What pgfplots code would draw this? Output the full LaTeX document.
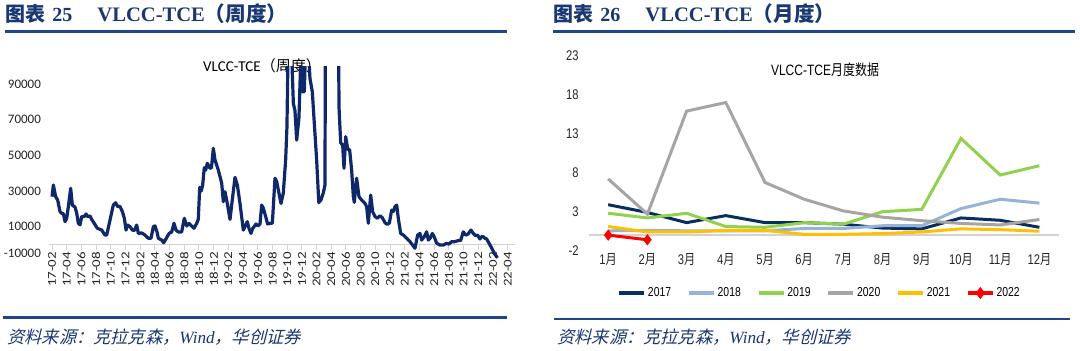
\documentclass[border=0pt]{standalone}
\usepackage{pgfplots}
\pgfplotsset{compat=1.18}
\usepackage{fontspec}
\setmainfont{Liberation Sans}
\newfontfamily\narrow[FakeStretch=0.8]{Liberation Sans}
\newfontfamily\cjkn[FakeStretch=0.8]{Noto Sans CJK SC}
\newfontfamily\cjk{Noto Sans CJK SC}
\newfontfamily\carl{Carlito}
\newfontfamily\carlx[FakeStretch=1.25]{Carlito}
\newfontfamily\tnr{Liberation Serif}
\newfontfamily\cjkit[FakeSlant=0.25]{Noto Sans CJK SC}
\definecolor{tblue}{RGB}{25,55,115}
\definecolor{rblue}{RGB}{30,70,135}
\definecolor{lineblue}{RGB}{14,40,105}
\definecolor{lgray}{RGB}{210,210,210}
\definecolor{c17}{RGB}{10,45,95}
\definecolor{c18}{RGB}{149,179,215}
\definecolor{c19}{RGB}{146,208,80}
\definecolor{c20}{RGB}{165,165,165}
\definecolor{c21}{RGB}{255,192,0}
\definecolor{c22}{RGB}{255,0,0}
\begin{document}
\begin{tikzpicture}[x=0.5pt,y=0.5pt]
\path[use as bounding box] (0,0) rectangle (1080,350);
% ---- titles and rules
\node[anchor=west, inner sep=0, text=tblue] at (5,336) {\fontsize{10}{12}\selectfont{\cjk\bfseries 图表}\hspace{0.35em}{\tnr\bfseries 25}};
\node[anchor=west, inner sep=0, text=tblue] at (97,336) {\fontsize{10.3}{12}\selectfont{\tnr\bfseries VLCC-TCE}{\cjk\bfseries （周度）}};
\node[anchor=west, inner sep=0, text=tblue] at (553,336) {\fontsize{10}{12}\selectfont{\cjk\bfseries 图表}\hspace{0.35em}{\tnr\bfseries 26}};
\node[anchor=west, inner sep=0, text=tblue] at (645,336) {\fontsize{10.3}{12}\selectfont{\tnr\bfseries VLCC-TCE}{\cjk\bfseries （月度）}};
\draw[rblue, line width=1.2pt] (5,318.7) -- (507,318.7);
\draw[rblue, line width=1.2pt] (553,318.7) -- (1075,318.7);
\draw[rblue, line width=1.2pt] (3,32.5) -- (507,32.5);
\draw[rblue, line width=1.2pt] (554,31) -- (1070,31);
\node[anchor=west, inner sep=0, text=tblue] at (7,13) {\fontsize{8.6}{10}\selectfont{\cjkit 资料来源：克拉克森，}{\tnr\itshape Wind}{\cjkit ，华创证券}};
\node[anchor=west, inner sep=0, text=tblue] at (557,13) {\fontsize{8.6}{10}\selectfont{\cjkit 资料来源：克拉克森，}{\tnr\itshape Wind}{\cjkit ，华创证券}};
% chart titles
\node[inner sep=0] at (262,284) {\fontsize{7.5}{9}\selectfont{\carl VLCC-TCE}{\cjk （周度）}};
\node[inner sep=0] at (825,280) {\fontsize{7.5}{9}\selectfont{\narrow VLCC-TCE}{\cjkn 月度数据}};
% ---- left chart
\begin{axis}[at={(24.65pt,43.825pt)}, anchor=south west, scale only axis,
  width=232.85pt, height=98.175pt,
  xmin=-0.37, xmax=63, ymin=-10, ymax=100,
  axis x line*=middle, axis y line*=left,
  x axis line style={draw=lgray, line width=0.6pt, -},
  y axis line style={draw=none},
  xtick={0,2,...,62},
  xticklabels={17-02,17-04,17-06,17-08,17-10,17-12,18-02,18-04,18-06,18-08,18-10,18-12,19-02,19-04,19-06,19-08,19-10,19-12,20-02,20-04,20-06,20-08,20-10,20-12,21-02,21-04,21-06,21-08,21-10,21-12,22-02,22-04},
  xtick align=outside, major tick length=2.5pt,
  xtick style={draw=lgray, line width=0.5pt},
  ytick={-5,10,30,50,70,90},
  yticklabels={-10000,10000,30000,50000,70000,90000},
  ytick style={draw=none},
  xticklabel style={font=\carlx\fontsize{6}{7}\selectfont, rotate=90, anchor=east, inner sep=1pt, text=black!85},
  yticklabel style={font=\carl\fontsize{6.5}{7}\selectfont, inner sep=0pt, xshift=-4pt, text=black!85},
  clip=true]
\addplot[lineblue, line width=1.6pt, line join=round] coordinates {
(0,26.8) (0.18,33.3) (0.5,26.8) (0.77,24.9) (1.09,18.4) (1.32,17.5) (1.55,17.2) (1.77,12.8)
(2.0,14.7) (2.22,21.2) (2.54,31.5) (2.77,22) (3.13,21) (3.36,17.5) (3.58,11.9) (3.81,11)
(4.04,15.7) (4.4,15.7) (4.63,17.1) (4.85,15.6) (5.17,16) (5.4,14) (5.85,11.2) (6.17,9.1)
(6.76,8.1) (7.21,5.3) (7.44,5.3) (7.89,13.7) (8.34,22.1) (8.66,23.4) (8.93,21.3) (9.25,21.3)
(9.57,18.5) (9.84,14.7) (10.07,8.1) (10.3,10.9) (10.61,10) (10.93,8.1) (11.2,7.8) (11.52,10.9)
(11.75,6.2) (12.2,6.5) (12.65,5.3) (13.1,3.5) (13.47,3.5) (13.79,10.0) (14.01,10.4) (14.29,7)
(14.47,3.5) (14.92,2.5) (15.19,1.0) (15.6,3.8) (15.92,6.2) (16.28,7) (16.6,11.9) (16.87,8.1)
(17.19,7) (17.64,7) (18.0,14.7) (18.33,10.4) (18.64,11.8) (19.0,10.4) (19.32,9.1) (19.68,11.8)
(19.9,14) (20.1,32) (20.3,30) (20.5,33.3) (20.72,43) (20.91,41.7) (21.13,45.5) (21.5,42.7)
(21.7,43) (21.95,53.9) (22.18,47.3) (22.63,41.7) (23.09,34.3) (23.31,24.0) (23.54,29.6) (23.85,23.0)
(24.22,14.1) (24.53,25) (24.9,37.6) (25.22,33.3) (25.58,23.0) (26.03,8.1) (26.26,10) (26.57,12.8)
(26.8,9.1) (27.07,6.2) (27.3,8.9) (27.76,11.5) (28.0,10.4) (28.3,11.5) (28.53,22.1) (28.76,20.3)
(29.07,15.7) (29.34,11.5) (29.7,11.9) (29.98,11.9) (30.34,37.1) (30.57,35.3) (30.88,28.8) (31.16,23.0)
(31.47,28.8) (31.79,47.3) (31.97,66) (32.12,110) (32.58,110) (32.84,79) (33.06,75) (33.29,58.5)
(33.6,71) (33.88,108) (34.05,85.6) (34.33,85.6) (34.5,110) (34.88,110) (35.1,93) (35.42,85.6)
(35.69,67.9) (36.01,47.3) (36.3,23.5) (36.6,25) (36.91,28.8) (37.14,33.3) (37.3,250) (38.8,250)
(39.05,77) (39.28,57) (39.55,55.6) (39.73,42.7) (39.96,60.4) (40.23,53.5) (40.5,53) (40.77,41.7)
(41.0,27) (41.13,23.6) (41.45,37.1) (41.77,26.8) (42.13,24.9) (42.59,23) (42.81,21.2) (43.04,11.9)
(43.36,27.7) (43.63,18.4) (43.95,15.7) (44.26,14.7) (44.63,16.1) (44.95,15) (45.31,12.2) (45.62,11.3)
(45.9,12) (46.22,19.3) (46.45,18.5) (46.67,21.2) (46.9,22.1) (47.12,14.7) (47.44,6.2) (47.8,5.3)
(48.26,3.5) (48.71,1.6) (49.07,-0.3) (49.39,-2.1) (49.75,5.3) (50.07,6.2) (50.3,2.5) (50.66,4.4)
(50.98,7.1) (51.2,2.5) (51.45,3.5) (51.75,6.2) (52.0,4.4) (52.34,0.7) (52.79,-0.3) (53.25,-0.3)
(53.7,0.7) (54.0,0.2) (54.38,1.6) (54.8,1.6) (55.28,2.2) (55.6,2.2) (55.96,7.1) (56.28,5.3)
(56.6,5.8) (57.0,8.1) (57.32,6.2) (57.64,4.9) (57.9,5.3) (58.23,3.1) (58.45,4.4) (58.68,4.4)
(58.9,3.5) (59.14,3.1) (59.46,0.8) (59.82,-2.0) (60.18,-4.8) (60.5,-6.8) (60.6,-7.5)
};
\end{axis}
% ---- right chart
\begin{axis}[at={(294.3pt,49.65pt)}, anchor=south west, scale only axis,
  width=235.2pt, height=97.5pt,
  xmin=0.5, xmax=12.5, ymin=-2, ymax=23,
  axis line style={draw=none}, tick style={draw=none},
  xtick={1,...,12},
  xticklabels={{1{\cjkn 月}},{2{\cjkn 月}},{3{\cjkn 月}},{4{\cjkn 月}},{5{\cjkn 月}},{6{\cjkn 月}},{7{\cjkn 月}},{8{\cjkn 月}},{9{\cjkn 月}},{10{\cjkn 月}},{11{\cjkn 月}},{12{\cjkn 月}}},
  ytick={-2,3,8,13,18,23},
  yticklabels={-2,3,8,13,18,23},
  xticklabel style={font=\narrow\fontsize{7}{8}\selectfont, inner sep=0pt, yshift=-1pt, text=black!85},
  yticklabel style={font=\narrow\fontsize{7}{8}\selectfont, inner sep=0pt, xshift=-4.8pt, text=black!85},
  legend style={at={(0.491,-0.217)}, anchor=center, legend columns=-1, draw=none, fill=none,
    font=\narrow\fontsize{6.5}{7}\selectfont, nodes={inner sep=1pt},
    /tikz/every even column/.append style={column sep=7pt}},
  legend image code/.code={\draw[#1, line width=1.8pt, mark repeat=3, mark phase=2] plot coordinates {(0pt,0pt) (6.25pt,0pt) (12.5pt,0pt)};},
  clip=false]
\draw[lgray, line width=0.8pt] (axis cs:0.5,0) -- (axis cs:12.5,0);
\addplot[c17, line width=1.5pt] coordinates {(1,3.9) (2,2.9) (3,1.6) (4,2.5) (5,1.6) (6,1.6) (7,1.4) (8,0.9) (9,0.8) (10,2.2) (11,1.9) (12,1.0)};
\addplot[c18, line width=1.5pt] coordinates {(1,0.55) (2,0.6) (3,0.55) (4,0.55) (5,0.55) (6,0.85) (7,0.85) (8,1.2) (9,1.2) (10,3.4) (11,4.6) (12,4.1)};
\addplot[c19, line width=1.5pt] coordinates {(1,2.8) (2,2.2) (3,2.8) (4,1.1) (5,1.0) (6,1.6) (7,1.4) (8,3.0) (9,3.3) (10,12.4) (11,7.7) (12,8.9)};
\addplot[c20, line width=1.5pt] coordinates {(1,7.2) (2,2.7) (3,15.9) (4,17.0) (5,6.75) (6,4.6) (7,3.1) (8,2.3) (9,1.85) (10,1.5) (11,1.3) (12,2.0)};
\addplot[c21, line width=1.5pt] coordinates {(1,1.1) (2,0.4) (3,0.4) (4,0.6) (5,0.6) (6,0.1) (7,0.1) (8,0.2) (9,0.4) (10,0.8) (11,0.7) (12,0.5)};
\addplot[c22, line width=1.5pt, mark=diamond*, mark size=1.6pt] coordinates {(1,0.0) (2,-0.6)};
\legend{2017,2018,2019,2020,2021,2022}
\end{axis}
\end{tikzpicture}
\end{document}
